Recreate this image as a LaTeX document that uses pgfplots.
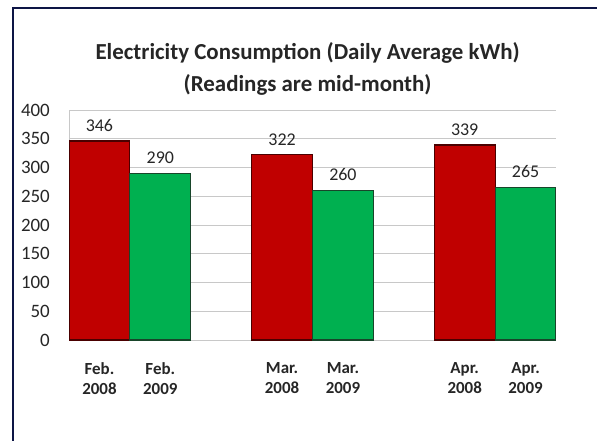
\documentclass[border=0pt]{standalone}
\usepackage{pgfplots}
\pgfplotsset{compat=1.18}
\usepackage{fontspec}
\setmainfont{Carlito}
\definecolor{barred}{HTML}{C00000}
\definecolor{bargreen}{HTML}{00B050}
\definecolor{redEdge}{HTML}{4A0000}
\definecolor{greenEdge}{HTML}{18452A}
\definecolor{frameC}{HTML}{0D1545}
\definecolor{gridc}{HTML}{C8C8C8}
\definecolor{txt}{HTML}{262626}
\begin{document}
\begin{tikzpicture}
\path[use as bounding box] (0,0) rectangle (597bp,-441bp);
\fill[white] (0,0) rectangle (597bp,-441bp);
\draw[frameC, line width=2.6bp] (600bp,-8bp) -- (13bp,-8bp) -- (13bp,-445bp);
\begin{axis}[
  at={(69bp,-340bp)}, anchor=south west,
  scale only axis, width=487bp, height=230bp,
  xmin=0, xmax=8, ymin=0, ymax=400,
  ytick={0,50,...,400},
  xtick={0.5,1.5,3.5,4.5,6.5,7.5},
  xticklabels={{Feb.\\2008},{Feb.\\2009},{Mar.\\2008},{Mar.\\2009},{Apr.\\2008},{Apr.\\2009}},
  ymajorgrids, grid style={gridc, line width=1bp},
  axis lines*=left,
  axis line style={gridc, line width=1bp},
  tick style={draw=none}, major tick length=0pt,
  /pgf/number format/assume math mode=true,
  yticklabel style={font=\fontsize{19}{20}\selectfont, text=txt, anchor=east, inner sep=0pt, xshift=-19bp},
  xticklabel style={font=\bfseries\fontsize{17}{20}\selectfont, text=txt, align=center, anchor=north, inner sep=0pt, yshift=-22bp},
  title={Electricity Consumption (Daily Average kWh)\\(Readings are mid-month)},
  title style={align=center, font=\bfseries\fontsize{23}{33}\selectfont, text=txt, at={(axis description cs:0.49,1)}, anchor=south, inner sep=0pt, yshift=8bp},
  ybar, bar width=1,
  nodes near coords,
  every node near coord/.append style={font=\fontsize{18}{20}\selectfont, text=txt, anchor=south, inner sep=0pt, yshift=9bp},
]
\addplot[bar shift=0pt, fill=barred, draw=redEdge, line width=1.2bp] coordinates {(0.5,346) (3.5,322) (6.5,339)};
\addplot[bar shift=0pt, fill=bargreen, draw=greenEdge, line width=1.2bp] coordinates {(1.5,290) (4.5,260) (7.5,265)};
\end{axis}
\end{tikzpicture}
\end{document}
